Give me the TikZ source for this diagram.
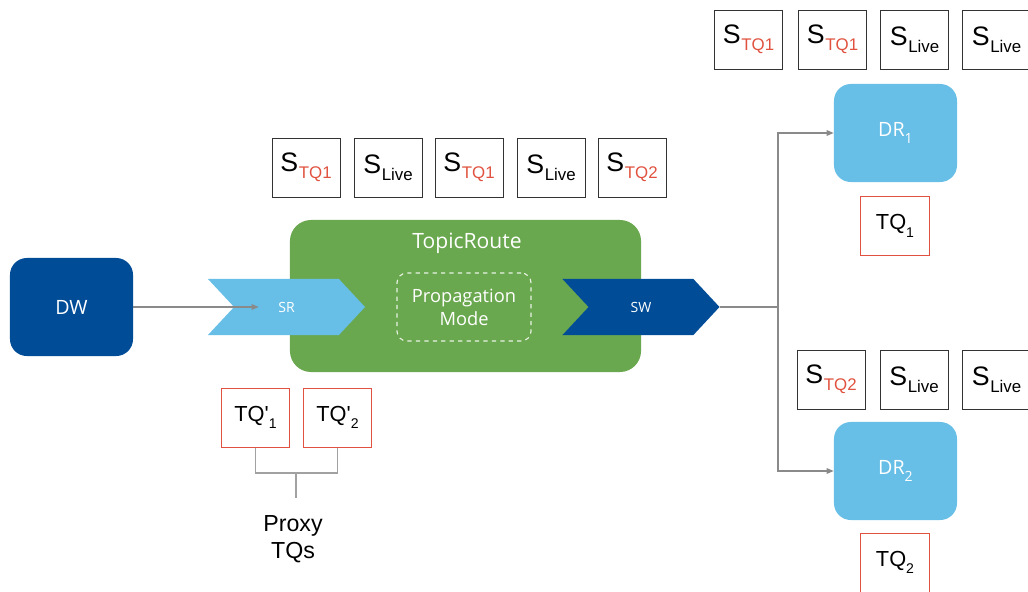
\documentclass[tikz,border=0pt]{standalone}
\usepackage{fontspec}
\setmainfont{Liberation Sans}
\newfontfamily\labelfont{Open Sans}
\usetikzlibrary{shapes.symbols, arrows.meta, positioning, calc}
\definecolor{dwblue}{HTML}{004C97}
\definecolor{drblue}{HTML}{67BEE6}
\definecolor{routegreen}{HTML}{6AA84F}
\definecolor{tqred}{HTML}{E0523F}
\definecolor{boxgray}{HTML}{333333}
\definecolor{linkgray}{HTML}{8A8A8A}

% sample label: S with a coloured subscript
\newcommand{\smp}[2]{S\kern0.5pt\raisebox{-5pt}{\fontsize{12}{12}\selectfont\color{#1}#2}}
% queue label with subscript
\newcommand{\que}[2]{#1\raisebox{-5.5pt}{\fontsize{10}{10}\selectfont #2}}

\tikzset{
  % Writer / reader boxes
  endpoint/.style={
    rectangle, rounded corners=12pt, minimum width=3.075cm, minimum height=2.45cm,
    fill=#1, text=white, font=\labelfont\fontsize{14}{16}\selectfont,
  },
  endpoint/.default={dwblue},
  % Chevrons for SR / SW
  chevron/.style={
    signal, signal from=west, signal to=east, signal pointer angle=94,
    minimum width=3.925cm, minimum height=1.4cm, inner sep=0pt,
    fill=#1, text=white, font=\labelfont\fontsize{10}{12}\selectfont,
  },
  % Samples
  sample/.style={
    rectangle, draw=boxgray, line width=0.7pt, minimum width=1.7cm,
    minimum height=1.475cm, inner sep=0pt, font=\fontsize{19}{21}\selectfont,
  },
  % Topic queues
  queue/.style={
    rectangle, draw=tqred, line width=0.7pt, minimum width=1.72cm,
    minimum height=1.475cm, inner sep=0pt, font=\fontsize{15.5}{17}\selectfont,
  },
  % Arrows
  link/.style={-{Triangle[length=5pt, width=4pt]}, draw=linkgray, line width=0.8pt},
  bracket/.style={draw=linkgray!80, line width=0.9pt},
}

\begin{document}
\begin{tikzpicture}[x=0.025cm, y=-0.025cm]
  \useasboundingbox (0,0) rectangle (1028,592);

  % TopicRoute
  \node[rectangle, rounded corners=15pt, fill=routegreen, minimum width=8.775cm,
        minimum height=3.8cm] (route) at (465.5,296) {};
  \node[text=white, font=\labelfont\fontsize{15}{17}\selectfont] (routelabel) at (467,243) {TopicRoute};
  \node[rectangle, rounded corners=7pt, draw=white!85!routegreen, dashed, line width=0.8pt,
        minimum width=3.35cm, minimum height=1.7cm, text=white, align=center,
        font=\labelfont\fontsize{13}{16.5}\selectfont] (mode) at (464,307) {Propagation\\Mode};

  % Reader / writer chevrons
  \node[chevron=drblue] (sr) at (286.5,307) {SR};
  \node[chevron=dwblue] (sw) at (641,307) {SW};

  % Data writer and readers
  \node[endpoint] (dw) at (71.5,307) {DW};
  \node[endpoint=drblue] (dr1) at (895.5,133) {\que{DR}{1}};
  \node[endpoint=drblue] (dr2) at (895.5,471) {\que{DR}{2}};

  % Samples on the route
  \node[sample] (s1) at (306,167.5) {\smp{tqred}{TQ1}};
  \node[sample] (s2) at (388,167.5) {\smp{black}{Live}};
  \node[sample] (s3) at (469,167.5) {\smp{tqred}{TQ1}};
  \node[sample] (s4) at (551,167.5) {\smp{black}{Live}};
  \node[sample] (s5) at (632,167.5) {\smp{tqred}{TQ2}};

  % Samples at DR1
  \node[sample] (a1) at (748.5,39.5) {\smp{tqred}{TQ1}};
  \node[sample] (a2) at (832.5,39.5) {\smp{tqred}{TQ1}};
  \node[sample] (a3) at (914.5,39.5) {\smp{black}{Live}};
  \node[sample] (a4) at (996.5,39.5) {\smp{black}{Live}};

  % Samples at DR2
  \node[sample] (b1) at (831,379.5) {\smp{tqred}{TQ2}};
  \node[sample] (b2) at (914,379.5) {\smp{black}{Live}};
  \node[sample] (b3) at (996.5,379.5) {\smp{black}{Live}};

  % Topic queues
  \node[queue] (tq1) at (895,226) {\que{TQ}{1}};
  \node[queue] (tq2) at (895,562.5) {\que{TQ}{2}};
  \node[queue] (ptq1) at (255.5,417.5) {\que{TQ\textquotesingle}{1}};
  \node[queue] (ptq2) at (337.5,417.5) {\que{TQ\textquotesingle}{2}};

  % Proxy TQs
  \coordinate (join) at (296,473);
  \node[anchor=north, align=center, inner sep=0pt,
        font=\fontsize{16.5}{19.5}\selectfont] (proxy) at (293,515) {Proxy\\TQs};
  \draw[bracket] (ptq1.south) |- (join) -| (ptq2.south);
  \draw[bracket] (join) -- ($(join)+(0,25)$);

  % Arrows
  \draw[link] (dw) -- ($(sr.west)+(25,0)$);
  \coordinate (split) at (778,307);
  \draw[draw=linkgray, line width=0.8pt] (sw.east) -- (split);
  \draw[link] (split) |- (dr1.west);
  \draw[link] (split) |- (dr2.west);
\end{tikzpicture}
\end{document}
